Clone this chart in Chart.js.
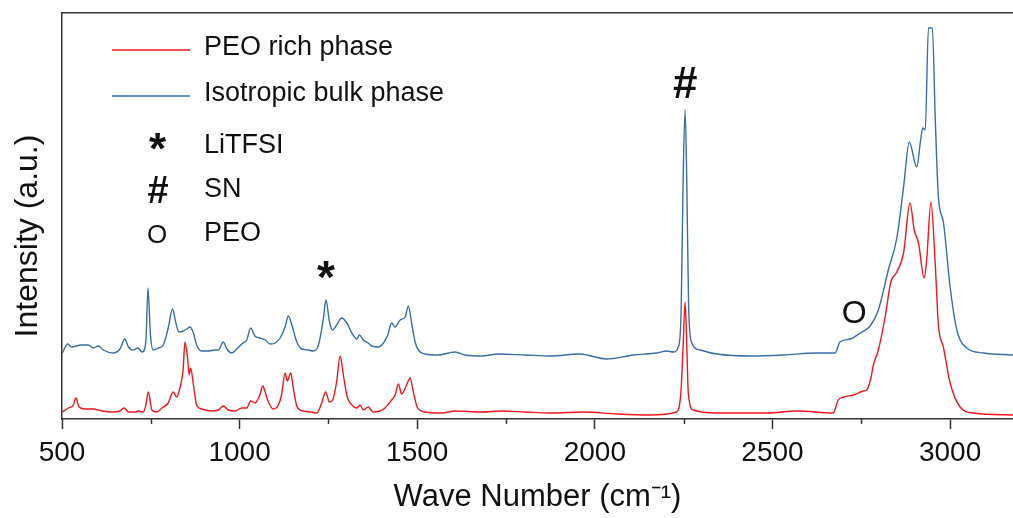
<!DOCTYPE html>
<html>
<head>
<meta charset="utf-8">
<script src="https://cdn.jsdelivr.net/npm/chart.js@4.4.1/dist/chart.umd.min.js"></script>
<style>
  html,body{margin:0;padding:0;background:#fff;}
  #wrap{width:1013px;height:518px;}
</style>
</head>
<body>
<div id="wrap"><canvas id="spec"></canvas></div>
<script>
// Raman spectra (intensity in arbitrary units)
const waveRed=[501,518,532,539,548,565,588,612,644,663,675,687,706,715,729,736,743,753,767,781,799,813,823,832,841,846,854,858,862,870,879,893,921,940,954,968,987,1006,1020,1031,1043,1057,1065,1071,1081,1095,1109,1118,1128,1134,1144,1151,1162,1179,1203,1217,1231,1242,1253,1262,1273,1283,1292,1303,1316,1330,1339,1348,1362,1376,1395,1409,1428,1438,1447,1456,1470,1480,1489,1501,1522,1569,1606,1682,1738,1803,1874,1968,2062,2155,2230,2242,2248,2254,2259,2263,2277,2343,2484,2568,2671,2685,2700,2728,2756,2765,2777,2784,2798,2817,2833,2850,2869,2887,2899,2911,2927,2934,2946,2958,2967,2981,3000,3028,3066,3177];
const intRed=[7,11,14,21,12,10,10,8,7,8,11,7,7,8,7,14,27,9,7,11,16,27,22,31,49,77,59,44,51,34,14,10,8,9,13,9,8,11,11,18,16,24,33,28,17,10,14,24,46,38,46,31,12,8,7,6,16,27,17,19,37,63,44,22,14,11,14,9,12,7,8,11,19,24,35,25,34,41,27,11,7,6,8,7,8,7,6,7,5,4,7,26,69,117,69,26,9,6,6,8,6,19,22,24,28,29,41,54,69,102,137,147,166,216,189,176,141,159,217,156,94,72,36,12,6,4];

const waveBlue=[501,516,527,555,574,588,602,616,644,663,677,687,701,713,726,736,742,749,757,771,785,799,811,820,829,842,851,860,870,879,893,912,931,940,954,964,978,992,1006,1020,1031,1043,1057,1072,1086,1100,1114,1128,1137,1147,1161,1175,1193,1207,1222,1236,1243,1253,1262,1273,1287,1302,1316,1330,1337,1348,1362,1372,1390,1405,1417,1428,1437,1452,1466,1475,1485,1494,1503,1522,1559,1606,1635,1682,1728,1803,1874,1958,2033,2108,2174,2202,2221,2235,2243,2248,2254,2259,2264,2273,2296,2343,2437,2531,2625,2676,2690,2719,2747,2775,2798,2826,2850,2869,2885,2906,2917,2923,2930,2939,2950,2958,2967,2981,3000,3019,3047,3094,3177];
const intBlue=[66,75,72,74,74,71,73,69,66,70,80,72,69,71,67,77,131,84,69,71,74,91,110,97,87,88,90,92,86,74,68,68,69,69,77,70,66,70,75,79,91,83,81,79,75,76,81,92,103,94,77,70,69,68,74,101,119,97,89,94,101,96,86,80,84,79,76,73,72,76,84,96,92,99,102,113,94,77,69,65,64,67,64,63,65,64,63,65,60,64,66,68,67,72,110,230,309,230,110,76,69,65,63,64,66,66,77,80,86,93,109,149,181,232,277,252,279,291,289,391,391,302,222,197,132,89,71,66,64];

const xTicks=[500,1000,1500,2000,2500,3000];
const xMinor=[750,1250,1750,2250,2750];

const seriesNames=['PEO rich phase','Isotropic bulk phase'];
const seriesColors=['#f2161c','#3a6ea5'];

// peak markers: symbol, wavenumber, intensity
const markSym=['*','#','O'];
const markWave=[1243,2254,2733];
const markInt=[136,337,107];
const markKey=['LiTFSI','SN','PEO'];

const FONT='"Liberation Sans", Arial, sans-serif';

function centeredText(ctx,txt,x,y){
  const m=ctx.measureText(txt);
  const h=m.actualBoundingBoxAscent-m.actualBoundingBoxDescent;
  const w=m.actualBoundingBoxRight-m.actualBoundingBoxLeft;
  ctx.textBaseline='alphabetic';
  ctx.textAlign='left';
  ctx.fillText(txt,x-w/2+m.actualBoundingBoxLeft,y+h/2);
}

const symFont=['bold 46px '+FONT,'bold 44px '+FONT,'32px '+FONT];
const keyFont=['bold 44px '+FONT,'bold 38px '+FONT,'26px '+FONT];
const keyShift=[8,10,7];

const decor={
  id:'decor',
  afterDraw(chart){
    const ctx=chart.ctx;
    const xs=chart.scales.x, ys=chart.scales.y;
    ctx.save();
    // minor ticks
    ctx.strokeStyle='#333';ctx.lineWidth=1.5;
    xMinor.forEach(v=>{
      const px=Math.round(xs.getPixelForValue(v))+0.5;
      ctx.beginPath();ctx.moveTo(px,xs.top);ctx.lineTo(px,xs.top+5);ctx.stroke();
    });
    // y title
    ctx.fillStyle='#111';
    ctx.save();
    ctx.translate(28,236);ctx.rotate(-Math.PI/2);
    ctx.font='32px '+FONT;ctx.textAlign='center';ctx.textBaseline='middle';
    ctx.fillText('Intensity (a.u.)',0,0);
    ctx.restore();
    // legend
    ctx.font='27px '+FONT;
    seriesNames.forEach((n,i)=>{
      const y=50+i*46;
      ctx.strokeStyle=seriesColors[i];ctx.lineWidth=1.4;
      ctx.beginPath();ctx.moveTo(112,y);ctx.lineTo(190,y);ctx.stroke();
      ctx.font='27px '+FONT;
      ctx.textBaseline='middle';ctx.textAlign='left';
      ctx.fillText(n,204,y-2);
    });
    markKey.forEach((k,i)=>{
      const y=146+i*44;
      ctx.font=keyFont[i];
      centeredText(ctx,markSym[i],158,y+keyShift[i]);
      ctx.font='27px '+FONT;
      ctx.textBaseline='middle';ctx.textAlign='left';
      ctx.fillText(k,204,y);
    });
    // peak labels
    markSym.forEach((s,i)=>{
      ctx.font=symFont[i];
      centeredText(ctx,s,xs.getPixelForValue(markWave[i]),ys.getPixelForValue(markInt[i]));
    });
    ctx.restore();
  }
};

new Chart(document.getElementById('spec'),{
  type:'line',
  data:{
    datasets:[
      {label:seriesNames[0],data:waveRed.map((w,i)=>({x:w,y:intRed[i]})),borderColor:seriesColors[0],borderWidth:1.4,pointRadius:0,cubicInterpolationMode:'monotone'},
      {label:seriesNames[1],data:waveBlue.map((w,i)=>({x:w,y:intBlue[i]})),borderColor:seriesColors[1],borderWidth:1.4,pointRadius:0,cubicInterpolationMode:'monotone'}
    ]
  },
  options:{
    responsive:true,
    maintainAspectRatio:false,
    animation:false,
    layout:{padding:0},
    plugins:{legend:{display:false},tooltip:{enabled:false}},
    scales:{
      x:{
        type:'linear',position:'bottom',min:500,max:3177,
        afterBuildTicks:s=>{s.ticks=xTicks.map(v=>({value:v}));},
        afterFit:s=>{s.height=99;},
        ticks:{color:'#111',font:{family:FONT,size:28},padding:7,maxRotation:0,callback:v=>String(v)},
        grid:{drawOnChartArea:false,drawTicks:true,tickLength:10,tickWidth:1.5,tickColor:'#333'},
        border:{display:true,color:'#333',width:1.5},
        title:{display:true,text:'Wave Number (cm\u207B\u00B9)',color:'#111',font:{family:FONT,size:31},padding:{top:0,bottom:2}}
      },
      x2:{
        type:'linear',position:'top',min:500,max:3177,
        afterFit:s=>{s.height=13;},
        ticks:{display:false},
        grid:{display:false},
        border:{display:true,color:'#333',width:1.5}
      },
      y:{
        min:0,max:406,
        afterFit:s=>{s.width=62;},
        ticks:{display:false},
        grid:{display:false},
        border:{display:true,color:'#333',width:1.5},
        title:{display:false}
      }
    }
  },
  plugins:[decor]
});
</script>
</body>
</html>
